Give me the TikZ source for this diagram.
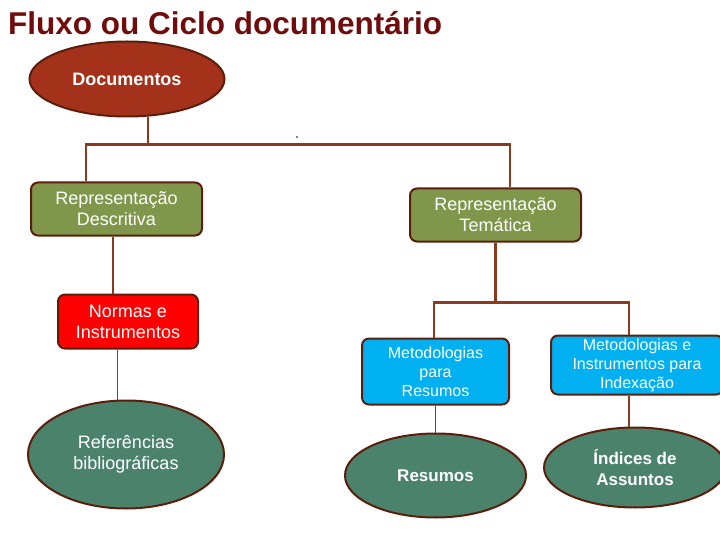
\documentclass[tikz,border=0pt]{standalone}
\usepackage{fontspec}
\setmainfont{Liberation Sans}
\usetikzlibrary{positioning,shapes.geometric}
\definecolor{titulo}{HTML}{700C0C}
\definecolor{ferrugem}{HTML}{A4321A}
\definecolor{oliva}{HTML}{80964A}
\definecolor{verde}{HTML}{4B826C}
\definecolor{azul}{HTML}{00B0F0}
\definecolor{borda}{HTML}{5C1E0C}
\definecolor{linha}{HTML}{8B3A1E}

\begin{document}
\begin{tikzpicture}[x=1pt, y=-1pt,
    caixa/.style={draw=borda, line width=2pt, rounded corners=7pt, inner sep=0pt, text=white, align=center, font=\fontsize{18}{21}\selectfont},
    elipse/.style={ellipse, draw=borda, line width=2pt, inner sep=0pt, text=white, align=center, font=\fontsize{18}{21}\selectfont},
    liga/.style={draw=linha, line width=2.3pt},
    ligafina/.style={draw=linha, line width=1pt}]

    \useasboundingbox (0,0) rectangle (720,540);

    \node [anchor=base west, inner sep=0pt, text=titulo, font=\bfseries\fontsize{31.5}{36}\selectfont] (titulo) at (8,35) {Fluxo ou Ciclo documentário};

    \node [elipse, fill=ferrugem, minimum width=195pt, minimum height=75pt, font=\bfseries\fontsize{18}{21}\selectfont] (doc) at (127,79) {Documentos};
    \node [caixa, fill=oliva, minimum width=171pt, minimum height=53pt, below=64pt of doc, xshift=-10.5pt] (rd) {Representação\\Descritiva};
    \node [caixa, fill=oliva, minimum width=171pt, minimum height=53pt, right=206pt of rd, yshift=-6pt] (rt) {Representação\\Temática};

    \node [caixa, fill=red, minimum width=140pt, minimum height=54pt, below=57pt of rd, xshift=11.5pt] (nor) {Normas e\\Instrumentos};
    \node [elipse, fill=verde, minimum width=196pt, minimum height=108pt, below=50pt of nor, xshift=-2pt] (ref) {Referências\\bibliográficas};

    \node [caixa, fill=azul, minimum width=147pt, minimum height=66pt, below=95pt of rt, xshift=-60pt, font=\fontsize{16}{19}\selectfont] (mr) {Metodologias\\para\\Resumos};
    \node [caixa, fill=azul, minimum width=172pt, minimum height=59pt, right=40pt of mr, yshift=6.5pt, font=\fontsize{16}{19}\selectfont] (mi) {Metodologias e\\Instrumentos para\\Indexação};

    \node [elipse, fill=verde, minimum width=181pt, minimum height=84pt, below=27pt of mr, font=\bfseries\fontsize{17}{21}\selectfont] (res) {Resumos};
    \node [elipse, fill=verde, minimum width=182pt, minimum height=80pt, below=31pt of mi, xshift=-2pt, font=\bfseries\fontsize{17}{21}\selectfont] (ind) {Índices de\\Assuntos};

    % ligações
    \draw [liga] (doc.-61) -- ++(0,28) coordinate (hub);
    \draw [liga] ([xshift=-30.5pt]rd.north) |- (hub) -| ([xshift=14.5pt]rt.north);
    \draw [liga] ([xshift=-3.5pt]rd.south) -- ([xshift=-3.5pt]rd.south |- nor.north);
    \draw [ligafina] ([xshift=-11pt]nor.south) -- ([xshift=-11pt]nor.south |- ref.north);

    \draw [liga] (rt.south) -- ++(0,60) coordinate (hub2);
    \draw [liga] ([xshift=-1.5pt]mr.north) |- (hub2) -| ([xshift=-8pt]mi.north);
    \draw [ligafina] (mr.south) -- (res.north);
    \draw [liga] ([xshift=-8pt]mi.south) -- ([xshift=-8pt]mi.south |- ind.north);

    \fill (297,137) circle (0.8pt);

\end{tikzpicture}
\end{document}
